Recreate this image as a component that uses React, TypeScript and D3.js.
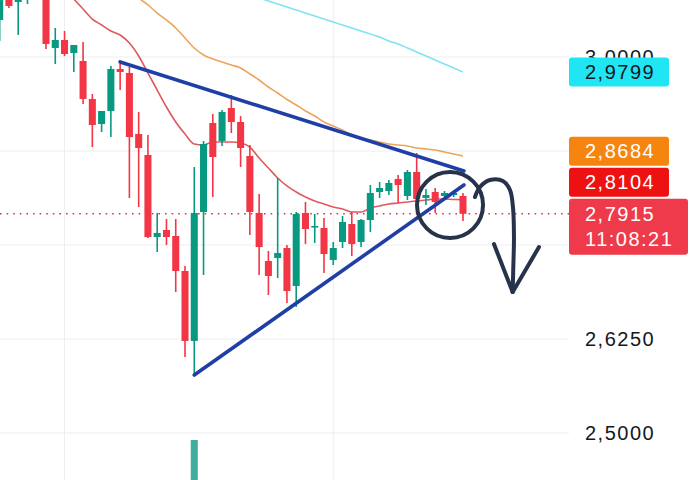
import React from 'react';
import * as d3 from 'd3';

const W = 696;
const H = 480;
const PLOT_RIGHT = 569;

// candle index 0..50
const opens = [3.0492,3.0811,3.0731,3.0838,3.1090,3.1024,3.0120,3.0226,3.0053,2.9947,2.9442,2.9109,2.9282,2.9840,2.9787,2.8976,2.8697,2.7606,2.7700,2.7620,2.7154,2.6224,2.7939,2.9122,2.8883,2.9322,2.9136,2.8684,2.7926,2.7287,2.7327,2.7460,2.6955,2.7926,2.7740,2.7726,2.7301,2.7540,2.7779,2.7540,2.7832,2.8205,2.8218,2.8378,2.8152,2.8471,2.8125,2.8205,2.8152,2.8165,2.8152];
const highs = [3.0957,3.0891,3.0864,3.0997,3.1184,3.1090,3.0386,3.0346,3.0160,3.0200,2.9508,2.9282,2.9880,2.9907,2.9867,2.9269,2.8963,2.7926,2.7846,2.7846,2.7221,2.8537,2.8883,2.9242,2.9295,2.9495,2.9215,2.8830,2.8178,2.7420,2.8391,2.7500,2.7939,2.8072,2.7912,2.7859,2.7540,2.7886,2.7939,2.7846,2.8298,2.8338,2.8364,2.8431,2.8497,2.8723,2.8245,2.8258,2.8218,2.8218,2.8192];
const lows = [3.0213,3.0652,3.0293,3.0705,3.0824,3.0106,2.9907,3.0013,2.9801,2.9375,2.8803,2.9003,2.8936,2.9561,2.8125,2.8005,2.7593,2.7407,2.7500,2.6875,2.6011,2.5771,2.7101,2.8138,2.8817,2.8989,2.8537,2.7633,2.7101,2.6835,2.7061,2.6729,2.6676,2.7513,2.7527,2.7128,2.7234,2.7460,2.7354,2.7473,2.7673,2.8125,2.8165,2.8058,2.8098,2.7965,2.8032,2.7926,2.8138,2.8138,2.7819];
const closes = [3.0864,3.0678,3.0811,3.0944,3.0891,3.0173,3.0226,3.0040,3.0160,2.9442,2.9096,2.9282,2.9840,2.9801,2.8936,2.8790,2.7606,2.7660,2.7606,2.7154,2.6224,2.7926,2.8843,2.8670,2.9269,2.9136,2.8790,2.7939,2.7473,2.7088,2.7394,2.6888,2.7912,2.7713,2.7753,2.7380,2.7460,2.7806,2.7513,2.7832,2.8192,2.8258,2.8325,2.8298,2.8471,2.8112,2.8165,2.8072,2.8192,2.8192,2.7915];

const maFast: (number | null)[] = [null,null,null,null,null,null,null,3.0904,3.0771,3.0638,3.0505,3.0426,3.0346,3.0293,3.0186,3.0013,2.9787,2.9561,2.9335,2.9136,2.8976,2.8843,2.8830,2.8870,2.8870,2.8870,2.8856,2.8803,2.8657,2.8524,2.8391,2.8285,2.8205,2.8138,2.8085,2.8045,2.8005,2.7979,2.7939,2.7939,2.7992,2.8019,2.8045,2.8058,2.8072,2.8085,2.8098,2.8112,2.8112,2.8106,2.8104];
const maMid: (number | null)[] = [null,null,null,null,null,null,null,null,null,null,null,null,null,null,3.0878,3.0785,3.0692,3.0585,3.0492,3.0386,3.0253,3.0120,3.0027,2.9973,2.9934,2.9894,2.9854,2.9774,2.9694,2.9601,2.9521,2.9435,2.9362,2.9282,2.9215,2.9136,2.9083,2.9029,2.8963,2.8923,2.8896,2.8870,2.8843,2.8830,2.8817,2.8790,2.8777,2.8763,2.8737,2.8710,2.8684];
const maSlow: (number | null)[] = [null,null,null,null,null,null,null,null,null,null,null,null,null,null,null,null,null,null,null,null,null,null,null,null,null,null,null,null,3.0785,3.0745,3.0705,3.0665,3.0625,3.0585,3.0545,3.0505,3.0465,3.0426,3.0386,3.0346,3.0306,3.0266,3.0213,3.0173,3.0120,3.0067,3.0013,2.9960,2.9907,2.9854,2.9799];

const volumeIdx = [21];
const volumeVal = [1.0];

const yTicks = [2.5, 2.625, 2.75, 2.875, 3.0];
const gridIdx = [7, 36, 65];

const tagValues = [2.9799, 2.8684, 2.8104, 2.7915];
const tagBg = ['#1fe6f2', '#f5850f', '#ee1111', '#ef3a4b'];
const tagFg = ['#131722', '#ffffff', '#ffffff', '#ffffff'];
const countdown = '11:08:21';

// drawings (index, price)
const upperLine = [[13, 2.9934], [50.1, 2.8484]];
const lowerLine = [[21, 2.5771], [50.1, 2.8298]];
const circleCenter = [48.6, 2.8032];
const arrowPath = [[51.29, 2.8138], [51.83, 2.8271], [52.91, 2.8364], [54.31, 2.8351], [55.07, 2.8231], [55.39, 2.8005], [55.5, 2.7606], [55.42, 2.7168], [55.36, 2.6875]];
const arrowHeadL = [[53.34, 2.7513], [55.36, 2.6875]];
const arrowHeadR = [[58.2, 2.7473], [55.36, 2.6875]];

const fmt = (v: number) => d3.format('.4f')(v).replace('.', ',');

export default function App() {
  const x = d3.scaleLinear().domain([0, 50]).range([-0.33, 463]);
  const step = x(1) - x(0);
  const bw = step * 0.76;
  const y = d3.scaleLinear().domain([2.5, 3.0]).range([433, 57]);
  const vol = d3.scaleLinear().domain([0, 1]).range([520, 440]);

  const green = '#089981';
  const red = '#f23645';
  const font = '"Liberation Sans", Arial, sans-serif';

  const maLine = d3
    .line<number | null>()
    .defined((d) => d !== null)
    .x((_, i) => x(i))
    .y((d) => y(d as number))
    .curve(d3.curveMonotoneX);

  const pl = d3.line<number[]>().x((d) => x(d[0])).y((d) => y(d[1]));
  const arrowLine = d3.line<number[]>().x((d) => x(d[0])).y((d) => y(d[1])).curve(d3.curveCatmullRom);

  // tag layout: stack upward from current price
  const order = tagValues.map((v, i) => i).sort((a, b) => tagValues[a] - tagValues[b]);
  const tags: { i: number; top: number; h: number }[] = [];
  let prevTop = Infinity;
  order.forEach((i) => {
    const cy = y(tagValues[i]);
    const isCur = i === tagValues.length - 1;
    const h = isCur ? 56 : 29;
    let top = isCur ? cy - 15 : cy - h / 2;
    if (top + h > prevTop - 2) top = prevTop - 2 - h;
    tags.push({ i, top, h });
    prevTop = top;
  });

  // axis labels fully hidden behind a tag are not drawn (as in the platform)
  const visibleTicks = yTicks.filter((t) => {
    const ty = y(t);
    return !tags.some((tg) => ty - 7 >= tg.top && ty + 7 <= tg.top + tg.h);
  });

  const curY = y(tagValues[tagValues.length - 1]);

  return (
    <svg width={W} height={H} style={{ position: 'fixed', left: 0, top: 0, background: '#fff' }}>
      <defs>
        <clipPath id="plot">
          <rect x={0} y={0} width={PLOT_RIGHT} height={H} />
        </clipPath>
      </defs>
      <rect x={0} y={0} width={W} height={H} fill="#ffffff" />
      <g clipPath="url(#plot)">
        {yTicks.map((t) => (
          <line key={t} x1={0} x2={PLOT_RIGHT} y1={y(t)} y2={y(t)} stroke="#eceef2" strokeWidth={1} />
        ))}
        {gridIdx.filter((g) => x(g) < PLOT_RIGHT).map((g) => (
          <line key={g} x1={x(g)} x2={x(g)} y1={0} y2={H} stroke="#eceef2" strokeWidth={1} />
        ))}
        {volumeIdx.map((vi, k) => (
          <rect key={vi} x={x(vi) - bw / 2} y={vol(volumeVal[k])} width={bw} height={vol(0) - vol(volumeVal[k])} fill="#3fae9e" />
        ))}
        <line x1={0} x2={PLOT_RIGHT} y1={curY} y2={curY} stroke="#e0353f" strokeWidth={1.6} strokeDasharray="1.6 5" />
        <path d={maLine(maSlow) || ''} fill="none" stroke="#7fe4ee" strokeWidth={1.6} />
        <path d={maLine(maMid) || ''} fill="none" stroke="#eda45a" strokeWidth={1.6} />
        <path d={maLine(maFast) || ''} fill="none" stroke="#e0585e" strokeWidth={1.6} />
        {opens.map((o, i) => {
          const c = closes[i];
          const col = c >= o ? green : red;
          const top = y(Math.max(o, c));
          const bot = y(Math.min(o, c));
          return (
            <g key={i}>
              <line x1={x(i)} x2={x(i)} y1={y(highs[i])} y2={y(lows[i])} stroke={col} strokeWidth={1.6} />
              <rect x={x(i) - bw / 2} y={top} width={bw} height={Math.max(bot - top, 1.6)} fill={col} />
            </g>
          );
        })}
        <path d={pl(upperLine) || ''} stroke="#1f3fa6" strokeWidth={3.6} fill="none" strokeLinecap="round" />
        <path d={pl(lowerLine) || ''} stroke="#1f3fa6" strokeWidth={3.6} fill="none" strokeLinecap="round" />
        <circle cx={x(circleCenter[0])} cy={y(circleCenter[1])} r={33} fill="none" stroke="#27324b" strokeWidth={4} />
        <path d={arrowLine(arrowPath) || ''} fill="none" stroke="#27324b" strokeWidth={4} strokeLinecap="round" strokeLinejoin="round" />
        <path d={pl(arrowHeadL) || ''} fill="none" stroke="#27324b" strokeWidth={4} strokeLinecap="round" />
        <path d={pl(arrowHeadR) || ''} fill="none" stroke="#27324b" strokeWidth={4} strokeLinecap="round" />
      </g>
      {visibleTicks.map((t) => (
        <text key={t} x={585} y={y(t)} dominantBaseline="central" fontFamily={font} fontSize={20} letterSpacing={1.5} fill="#131722">
          {fmt(t)}
        </text>
      ))}
      {tags.map(({ i, top, h }) => {
        const isCur = i === tagValues.length - 1;
        return (
          <g key={i}>
            <rect x={569} y={top} width={isCur ? 119 : 100} height={h} rx={3} fill={tagBg[i]} />
            <text x={585} y={top + (isCur ? 15 : h / 2)} dominantBaseline="central" fontFamily={font} fontSize={20} letterSpacing={1.5} fill={tagFg[i]}>
              {fmt(tagValues[i])}
            </text>
            {isCur && (
              <text x={585} y={top + 40} dominantBaseline="central" fontFamily={font} fontSize={20} letterSpacing={1.5} fill={tagFg[i]}>
                {countdown}
              </text>
            )}
          </g>
        );
      })}
    </svg>
  );
}
